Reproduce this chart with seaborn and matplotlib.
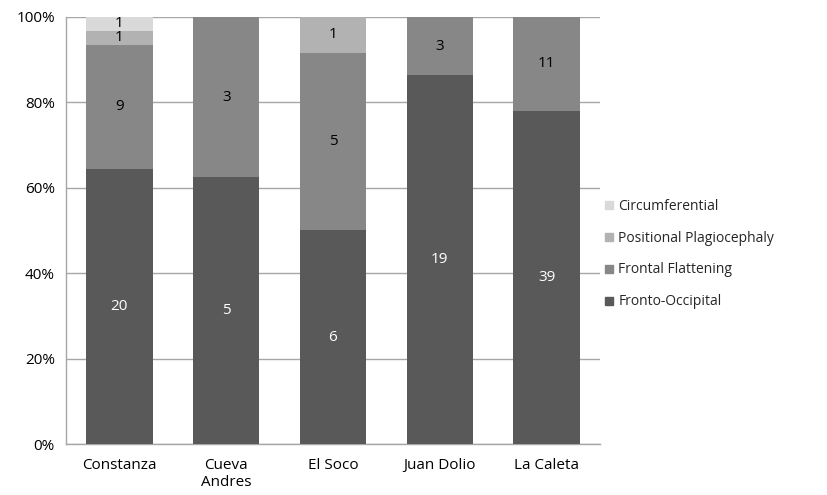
import matplotlib
matplotlib.use("Agg")
import matplotlib.pyplot as plt
from matplotlib.lines import Line2D
import seaborn as sns
import pandas as pd
import numpy as np

sites = ["Constanza", "Cueva\nAndres", "El Soco", "Juan Dolio", "La Caleta"]
fronto_occipital = [20, 5, 6, 19, 39]
frontal_flattening = [9, 3, 5, 3, 11]
positional_plagiocephaly = [1, 0, 1, 0, 0]
circumferential = [1, 0, 0, 0, 0]

categories = ["Fronto-Occipital", "Frontal Flattening",
              "Positional Plagiocephaly", "Circumferential"]
colors = ["#595959", "#878787", "#b2b2b2", "#d9d9d9"]
text_colors = ["white", "black", "black", "black"]

counts = pd.DataFrame({
    "Fronto-Occipital": fronto_occipital,
    "Frontal Flattening": frontal_flattening,
    "Positional Plagiocephaly": positional_plagiocephaly,
    "Circumferential": circumferential,
}, index=sites)

pct = counts.div(counts.sum(axis=1), axis=0) * 100
cum = pct.cumsum(axis=1)

sns.set_style("white")
plt.rcParams["font.family"] = ["Open Sans", "DejaVu Sans"]

fig = plt.figure(figsize=(8.27, 4.95), dpi=100)
ax = fig.add_axes([0.0798, 0.103, 0.6457, 0.8627])

# stacked bars: draw cumulative totals from the top layer down
for cat, col in zip(reversed(categories), reversed(colors)):
    df = pd.DataFrame({"site": sites, "value": cum[cat].values})
    sns.barplot(data=df, x="site", y="value", color=col, width=0.62,
                saturation=1, linewidth=0, edgecolor="none", ax=ax, zorder=3)

# segment labels
for i, site in enumerate(sites):
    bottom = 0.0
    for cat, tcol in zip(categories, text_colors):
        h = pct.loc[site, cat]
        n = counts.loc[site, cat]
        if n > 0:
            ax.text(i, bottom + h / 2, f"{n}", ha="center", va="center",
                    color=tcol, fontsize=11, zorder=4)
        bottom += h

ax.set_ylim(0, 100)
ax.set_xlim(-0.5, len(sites) - 0.5)
ax.set_yticks(np.arange(0, 101, 20))
ax.set_yticklabels([f"{v}%" for v in range(0, 101, 20)])
ax.yaxis.grid(True, color="#a6a6a6", linewidth=1, zorder=0)
ax.set_axisbelow(True)
ax.set_xlabel("")
ax.set_ylabel("")
ax.tick_params(axis="both", length=0, labelsize=11, colors="black")
ax.tick_params(axis="y", pad=8)
ax.tick_params(axis="x", pad=10)
for s in ["top", "right"]:
    ax.spines[s].set_visible(False)
for s in ["left", "bottom"]:
    ax.spines[s].set_color("#a6a6a6")
    ax.spines[s].set_linewidth(1)

handles = [Line2D([0], [0], marker="s", linestyle="none", markersize=6,
                  markerfacecolor=c, markeredgecolor=c)
           for c in reversed(colors)]
fig.legend(handles, list(reversed(categories)), loc="upper left",
           bbox_to_anchor=(0.725, 0.61), frameon=False, fontsize=10,
           handlelength=0.6, handletextpad=0.35, labelspacing=1.22,
           borderaxespad=0)

fig.savefig("out.png", dpi=100)
